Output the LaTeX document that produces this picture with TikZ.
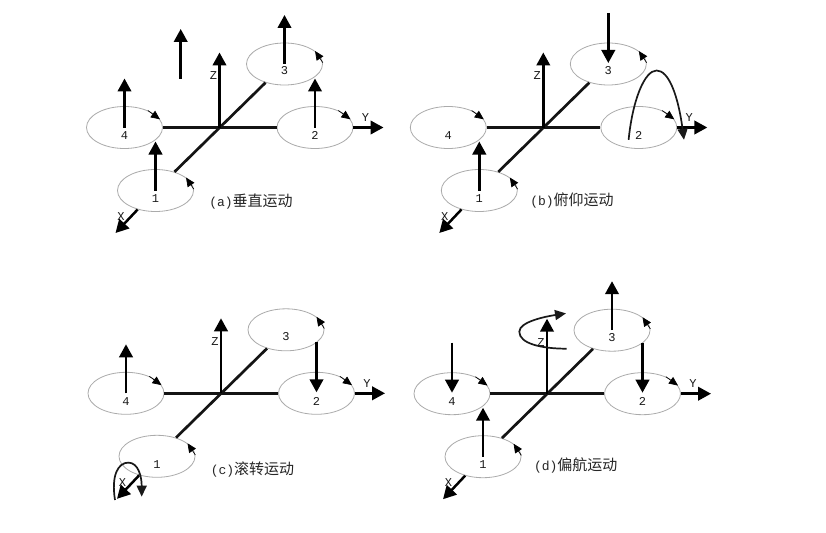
\documentclass[tikz,border=0pt]{standalone}
\usepackage{fontspec}
\setmonofont{Liberation Mono}
\newfontfamily\cjk{Noto Sans CJK SC}
\usetikzlibrary{arrows.meta,calc,shapes.geometric}
\tikzset{
  rotor/.style={ellipse,draw=black!33,line width=0.8pt,minimum width=76pt,minimum height=42pt,inner sep=0pt},
  arm/.style={line width=2.7pt,black!92},
  thrust/.style={line width=2.5pt,black,-{Triangle[length=13pt,width=13.5pt]}},
  spin/.style={line width=0.7pt,black,-{Triangle[length=9pt,width=8pt]}},
  moment/.style={line width=1.7pt,black!90,-{Triangle[length=11pt,width=10pt]}},
  lab/.style={font=\ttfamily\fontsize{12}{12}\selectfont,text=black!90,inner sep=0pt},
  caption/.style={font=\fontsize{15}{15}\selectfont,text=black!85,inner sep=0pt}
}
\newcommand{\quadframe}[4]{%
  \coordinate (#1o) at (#2,#3);
  \node[rotor] (#11) at ($(#1o)+(-64,63)$) {};
  \node[rotor] (#12) at ($(#1o)+(95.5,0)$) {};
  \node[rotor] (#13) at ($(#1o)+(65,-63.5)$) {};
  \node[rotor] (#14) at ($(#1o)+(-95,0)$) {};
  \node[lab] (#1n1) at ($(#11)+(0,8)$) {1};
  \node[lab] (#1n2) at ($(#12)+(0,8)$) {2};
  \node[lab] (#1n3) at ($(#13)+(0,7)$) {3};
  \node[lab] (#1n4) at ($(#14)+(0,8)$) {4};
  \coordinate (#1z) at ($(#1o)+(0,-75)$);
  \coordinate (#1y) at ($(#1o)+(164,0)$);
  \coordinate (#1x) at ($(#1o)+(-104,105.5)$);
  \draw[arm] (#14) -- (#12);
  \draw[arm] (#13) -- (#11);
  \draw[thrust] (#1o) -- (#1z);
  \draw[thrust] (#12) -- (#1y);
  \draw[thrust] (#11) -- (#1x);
  \draw[spin] (#14.36) -- (#14.13);
  \draw[spin] (#12.36) -- (#12.13);
  \draw[spin] (#11.2) -- (#11.23);
  \draw[spin] (#13.2) -- (#13.23);
  \node[lab] (#1lz) at ($(#1o)+(-6,-51.5)$) {Z};
  \node[lab] (#1ly) at ($(#1o)+(146,-10)$) {Y};
  \node[lab] (#1lx) at ($(#1o)+(-98.5,89)$) {X};
}
\newcommand{\liftup}[1]{%
  \draw[thrust] (#1.center) -- ($(#1)+(0,-49)$) coordinate (#1tip);}
\newcommand{\pushdown}[1]{%
  \coordinate (#1tail) at ($(#1)+(0,-51)$);
  \coordinate (#1tip) at ($(#1)+(0,-1)$);
  \draw[thrust] (#1tail) -- (#1tip);}
\begin{document}
\begin{tikzpicture}[x=1pt,y=-1pt]
\useasboundingbox[fill=white] (0,0) rectangle (826,532);

% (a)
\quadframe{a}{219.5}{127.5}{}
\liftup{a1}\liftup{a2}\liftup{a3}\liftup{a4}
\coordinate (afreeS) at (180.7,79);
\coordinate (afreeE) at (180.7,29);
\draw[thrust] (afreeS) -- (afreeE);
\node[caption] (acap) at (251,202) {\ttfamily\fontsize{13}{15}\selectfont (a)\cjk\fontsize{15}{15}\selectfont 垂直运动};

% (b)
\quadframe{b}{543.3}{127.5}{}
\liftup{b1}\pushdown{b3}
\coordinate (bcS) at ($(bo)+(85.3,12.3)$);
\coordinate (bcT) at ($(bo)+(113.3,-57)$);
\coordinate (bcE) at ($(bo)+(140.7,12.3)$);
\draw[moment] (bcS) .. controls +(4,-40) and +(-12,0) .. (bcT) .. controls +(12,0) and +(-6,-45) .. (bcE);
\node[caption] (bcap) at (572,200) {\ttfamily\fontsize{13}{15}\selectfont (b)\cjk\fontsize{15}{15}\selectfont 俯仰运动};

% (c)
\quadframe{c}{221}{393.3}{}
\liftup{c4}\pushdown{c2}
\coordinate (ccS) at ($(co)+(-106,106.7)$);
\coordinate (ccT) at ($(co)+(-92.7,69.3)$);
\coordinate (ccE) at ($(co)+(-79.3,103.3)$);
\draw[moment] (ccS) .. controls +(-4,-25) and +(-10,0) .. (ccT) .. controls +(10,0) and +(0,-20) .. (ccE);
\node[caption] (ccap) at (252.5,470) {\ttfamily\fontsize{13}{15}\selectfont (c)\cjk\fontsize{15}{15}\selectfont 滚转运动};

% (d)
\quadframe{d}{547}{393.7}{}
\liftup{d1}\liftup{d3}\pushdown{d2}\pushdown{d4}
\coordinate (dcS) at ($(do)+(19.7,-45)$);
\coordinate (dcT) at ($(do)+(-27.7,-62)$);
\coordinate (dcE) at ($(do)+(19,-80.3)$);
\draw[moment] (dcS) .. controls +(-25,0) and +(0,12) .. (dcT) .. controls +(0,-10) and +(-20,3) .. (dcE);
\node[caption] (dcap) at (575.7,465.7) {\ttfamily\fontsize{13}{15}\selectfont (d)\cjk\fontsize{15}{15}\selectfont 偏航运动};
\end{tikzpicture}
\end{document}
